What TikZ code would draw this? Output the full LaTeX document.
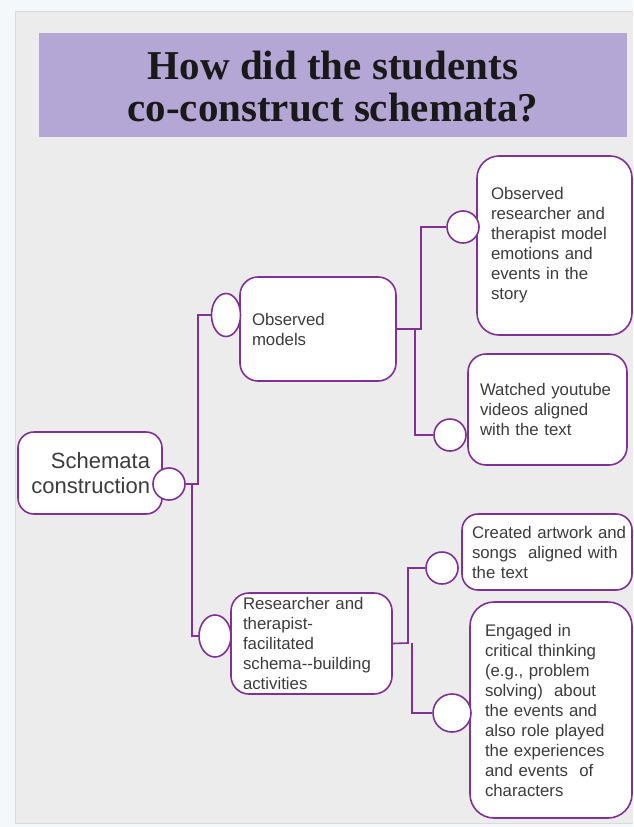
\documentclass[tikz,border=0pt]{standalone}
\usepackage{fontspec}
\usetikzlibrary{shapes.geometric}
\setmainfont{Liberation Sans}
\newfontfamily\titlefont{Liberation Serif}
\definecolor{purp}{RGB}{128,48,150}
\definecolor{band}{RGB}{180,167,214}
\definecolor{panel}{RGB}{236,236,236}
\definecolor{outerbg}{RGB}{245,248,251}
\definecolor{txt}{RGB}{60,60,60}
\begin{document}
\begin{tikzpicture}[x=1pt,y=-1pt,
  box/.style={draw=purp, line width=1.6pt, fill=white, rounded corners=18pt,
    align=left, text=txt, font=\fontsize{16.8}{20}\selectfont, inner ysep=0pt},
  knob/.style={draw=purp, line width=1.6pt, fill=white, circle, inner sep=0pt},
  oval/.style={draw=purp, line width=1.6pt, fill=white, ellipse, inner sep=0pt},
  link/.style={draw=purp, line width=1.6pt}
]
\useasboundingbox (0,0) rectangle (633,827);
\fill[outerbg] (0,0) rectangle (633,827);
\fill[panel] (15,11) rectangle (633,823);
\draw[gray!30, line width=0.6pt] (15,823) -- (15,11) -- (633,11);
\draw[gray!30, line width=0.6pt] (15,823) -- (633,823);
% title
\fill[band] (39,33) rectangle (627,137);
\node[font=\titlefont\bfseries\fontsize{41}{42}\selectfont, align=center, text=black!90] (title) at (333,87)
  {How did the students\\co-construct schemata?};
% boxes
\node[box, rounded corners=16pt, align=right, font=\fontsize{22}{25}\selectfont,
  inner xsep=12pt, text width=120pt, minimum height=82pt] (sc) at (90,473) {Schemata\\construction};
\node[box, inner xsep=12pt, text width=132pt, minimum height=104pt] (m1) at (318,329) {Observed\\models};
\node[box, rounded corners=22pt, inner xsep=14pt, text width=127pt, minimum height=179pt] (r1) at (554.5,245.5)
  {Observed\\\mbox{researcher and}\\\mbox{therapist model}\\\mbox{emotions and}\\\mbox{events in the}\\story};
\node[box, inner xsep=12pt, text width=135pt, minimum height=111pt] (r2) at (547.5,409.5)
  {\mbox{Watched youtube}\\\mbox{videos aligned}\\\mbox{with the text}};
\node[box, inner xsep=12pt, text width=137pt, minimum height=101pt] (m2) at (311.5,643.5)
  {\mbox{Researcher and}\\therapist-\\facilitated\\\mbox{schema-{}-building}\\activities};
\node[box, rounded corners=16pt, inner xsep=10pt, text width=150pt, minimum height=76pt] (r3) at (547,552)
  {\mbox{Created artwork and}\\\mbox{songs\ \ aligned with}\\\mbox{the text}};
\node[box, rounded corners=24pt, inner xsep=15pt, text width=132pt, minimum height=216pt] (r4) at (551,710)
  {\mbox{Engaged in}\\\mbox{critical thinking}\\\mbox{(e.g., problem}\\\mbox{solving)\ \ about}\\\mbox{the events and}\\\mbox{also role played}\\\mbox{the experiences}\\\mbox{and events\ \ of}\\characters};
% junctions
\coordinate (j1) at (198,484);
\coordinate (j2) at (192,484);
\coordinate (j3) at (421,329);
\coordinate (j4) at (415,329);
\coordinate (j5) at (408,643);
\coordinate (j6) at (412,643);
% knobs
\node[knob, minimum size=32pt] (c0) at (169,484) {};
\node[oval, minimum width=29pt, minimum height=43pt] (e1) at (226,315) {};
\node[oval, minimum width=32pt, minimum height=42pt] (e2) at (215,636) {};
\node[knob, minimum size=32pt] (c1) at (463,227) {};
\node[knob, minimum size=32pt] (c2) at (450,435) {};
\node[knob, minimum size=32pt] (c3) at (442,568) {};
\node[knob, minimum size=38pt] (c4) at (452,713) {};
% connectors
\draw[link] (c0.east) -- (j1) |- (e1.west);
\draw[link] (j2) |- (e2.west);
\draw[link] (m1.east) -- (j3) |- (c1.west);
\draw[link] (j4) |- (c2.west);
\draw[link] (m2.east) -- (j5) |- (c3.west);
\draw[link] (j6) |- (c4.west);
\end{tikzpicture}
\end{document}
